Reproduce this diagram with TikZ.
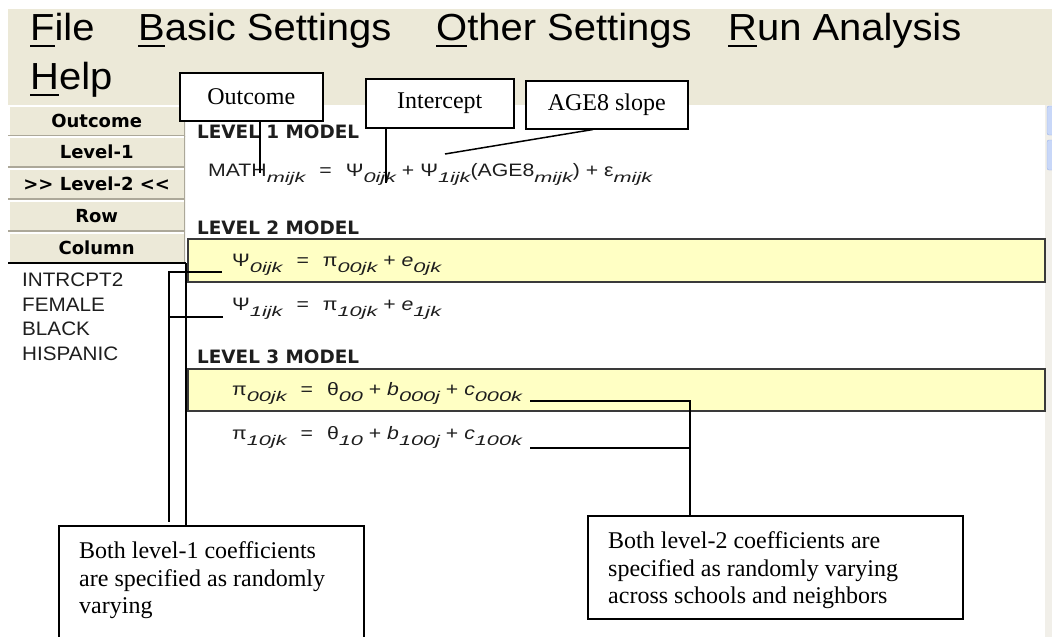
\documentclass[tikz,border=0pt]{standalone}
\usepackage{fontspec}
\setmainfont{Liberation Serif}
\newfontfamily\menufont[FakeStretch=1.06]{Liberation Sans}
\newfontfamily\eqfont[FakeStretch=1.18]{Liberation Sans}
\newfontfamily\subfont[FakeStretch=1.55]{Liberation Sans Italic}
\newfontfamily\listfont[FakeStretch=1.06]{Liberation Sans}
\newfontfamily\headfont{DejaVu Sans}
\usetikzlibrary{calc}

\definecolor{menubg}{HTML}{ECE9D8}
\definecolor{btnshadow}{HTML}{ACA899}
\definecolor{rowyellow}{HTML}{FFFFC4}
\definecolor{rowframe}{HTML}{3A3A3A}
\definecolor{scrollbg}{HTML}{F1EFE9}
\definecolor{scrollbtn}{HTML}{C8D7F8}
\definecolor{scrolledge}{HTML}{9DB3E6}
\definecolor{eqink}{HTML}{1E1E1E}

% menu accelerator: underlined first letter
\newcommand\hotkey[1]{\leavevmode\setbox0=\hbox{#1}\rlap{\rule[-7pt]{\wd0}{2.2pt}}\box0}
% lowered italic index of the model equations
\newcommand\idx[1]{\raisebox{-6pt}{\subfont\fontsize{14}{14}\selectfont #1}}
\newcommand\eqgap{\hspace{14pt}}

\begin{document}
\begin{tikzpicture}[x=1pt,y=-1pt,
  menuitem/.style={anchor=base west,inner sep=0pt,font=\menufont\fontsize{37.7}{38}\selectfont},
  btn/.style={fill=menubg,minimum width=177pt,minimum height=31pt,inner sep=0pt,anchor=north west,
    font=\headfont\bfseries\fontsize{18}{18}\selectfont,
    path picture={
      \draw[white,line width=3pt] (path picture bounding box.south west) |- (path picture bounding box.north east);
      \draw[btnshadow,line width=3pt] (path picture bounding box.south west) -| (path picture bounding box.north east);}},
  listitem/.style={anchor=base west,inner sep=0pt,font=\listfont\fontsize{19.5}{20}\selectfont,text=eqink},
  heading/.style={anchor=base west,inner sep=0pt,font=\headfont\bfseries\fontsize{18.4}{19}\selectfont,text=eqink},
  eqrow/.style={anchor=base west,inner sep=0pt,font=\eqfont\fontsize{18}{18}\selectfont,text=eqink},
  callout/.style={draw=black,line width=1.5pt,fill=white,anchor=north west,inner sep=0pt,
    font=\fontsize{24}{27.5}\selectfont},
  notetext/.style={anchor=north west,inner sep=0pt,align=left,font=\fontsize{24}{27.5}\selectfont},
  lead/.style={draw=black,line width=1.5pt},
  rowbox/.style={fill=rowyellow,draw=rowframe,line width=1.5pt}]

\useasboundingbox (0,0) rectangle (1052,637);
\clip (0,0) rectangle (1052,637);
\fill[white] (0,0) rectangle (1052,637);

% ---------------- menu bar
\fill[menubg] (8,9) rectangle (1052,105);
\node[menuitem] (mfile)  at (30,40)  {\hotkey{F}ile};
\node[menuitem] (mbasic) at (138,40) {\hotkey{B}asic Settings};
\node[menuitem] (mother) at (436,40) {\hotkey{O}ther Settings};
\node[menuitem] (mrun)   at (728,40) {\hotkey{R}un Analysis};
\node[menuitem] (mhelp)  at (30,89)  {\hotkey{H}elp};

% ---------------- scroll bar on the right
\fill[scrollbg] (1045,105) rectangle (1052,637);
\filldraw[fill=scrollbtn,draw=scrolledge,rounded corners=2pt] (1047,106) rectangle (1054,135);
\filldraw[fill=scrollbtn,draw=scrolledge,rounded corners=2pt] (1047,140) rectangle (1054,170);

% ---------------- navigation buttons
\node[btn] (bout)  at (8,105) {Outcome};
\node[btn] (blev1) at (8,136) {Level-1};
\node[btn] (blev2) at (8,168) {>\kern0pt> Level-2 <\kern0pt<};
\node[btn] (brow)  at (8,200) {Row};
\node[btn] (bcol)  at (8,232) {Column};

% list of level-2 predictors
\draw[black,line width=1.5pt] (8,263) -- (186,263);
\node[listitem] (vint) at (22,286) {INTRCPT2};
\node[listitem] (vfem) at (22,311) {FEMALE};
\node[listitem] (vblk) at (22,335) {BLACK};
\node[listitem] (vhis) at (22,360) {HISPANIC};

% ---------------- model panel
\node[heading] (h1) at (197,138) {LEVEL 1 MODEL};
\node[eqrow] (eq1) at (208,176)
  {MATH\idx{mijk}\eqgap=\eqgap Ψ\idx{0ijk} + Ψ\idx{1ijk}(AGE8\idx{mijk}) + ε\idx{mijk}};

\node[heading] (h2) at (197,234) {LEVEL 2 MODEL};
\path[rowbox] (188,239) rectangle (1045,282);
\node[eqrow] (eq20) at (232,266) {Ψ\idx{0ijk}\eqgap=\eqgap π\idx{00jk} + {\itshape e}\idx{0jk}};
\node[eqrow] (eq21) at (232,310) {Ψ\idx{1ijk}\eqgap=\eqgap π\idx{10jk} + {\itshape e}\idx{1jk}};

\node[heading] (h3) at (197,363) {LEVEL 3 MODEL};
\path[rowbox] (188,369) rectangle (1045,411);
\node[eqrow] (eq30) at (232,395) {π\idx{00jk}\eqgap=\eqgap θ\idx{00} + {\itshape b}\idx{000j} + {\itshape c}\idx{000k}};
\node[eqrow] (eq31) at (232,439) {π\idx{10jk}\eqgap=\eqgap θ\idx{10} + {\itshape b}\idx{100j} + {\itshape c}\idx{100k}};

% border between the predictor list and the model panel
\draw[black,line width=1.5pt] (186,263) -- (186,525);

% ---------------- callouts
\node[callout,minimum width=143pt,minimum height=48pt] (outcome) at (179,72) {Outcome};
\node[callout,minimum width=148pt,minimum height=49pt] (intercept) at (365,78) {Intercept};
\node[callout,minimum width=162pt,minimum height=48pt] (slope) at (525,80) {AGE8 slope};

\node[callout,minimum width=305pt,minimum height=130pt] (note1) at (58,525) {};
\node[notetext] (note1txt) at (79,541.6) {Both level-1 coefficients\\are specified as randomly\\varying};
\node[callout,minimum width=375pt,minimum height=103pt] (note2) at (587,515) {};
\node[notetext] (note2txt) at (608,531.6) {Both level-2 coefficients are\\specified as randomly varying\\across schools and neighbors};

% ---------------- leader lines
\coordinate (mathtip) at (260,173);
\coordinate (psi0top) at (386,183);
\coordinate (psi1top) at (445,154);
\draw[lead] (mathtip |- outcome.south) -- (mathtip);
\draw[lead] (psi0top |- intercept.south) -- (psi0top);
\draw[lead] ($(slope.south west)+(68,0)$) -- (psi1top);

\coordinate (psi0tip) at (222,272);
\coordinate (psi1tip) at (223,317);
\coordinate (drop1) at (169,522);
\draw[lead] (psi0tip) -| (drop1);
\draw[lead] (psi1tip) -- (psi1tip -| drop1);

\coordinate (c000end) at (530,401);
\coordinate (c100end) at (530,448);
\coordinate (hook2) at ($(note2.north west)+(103,0)$);
\draw[lead] (c000end) -| (hook2);
\draw[lead] (c100end) -- (c100end -| hook2);
\end{tikzpicture}
\end{document}
